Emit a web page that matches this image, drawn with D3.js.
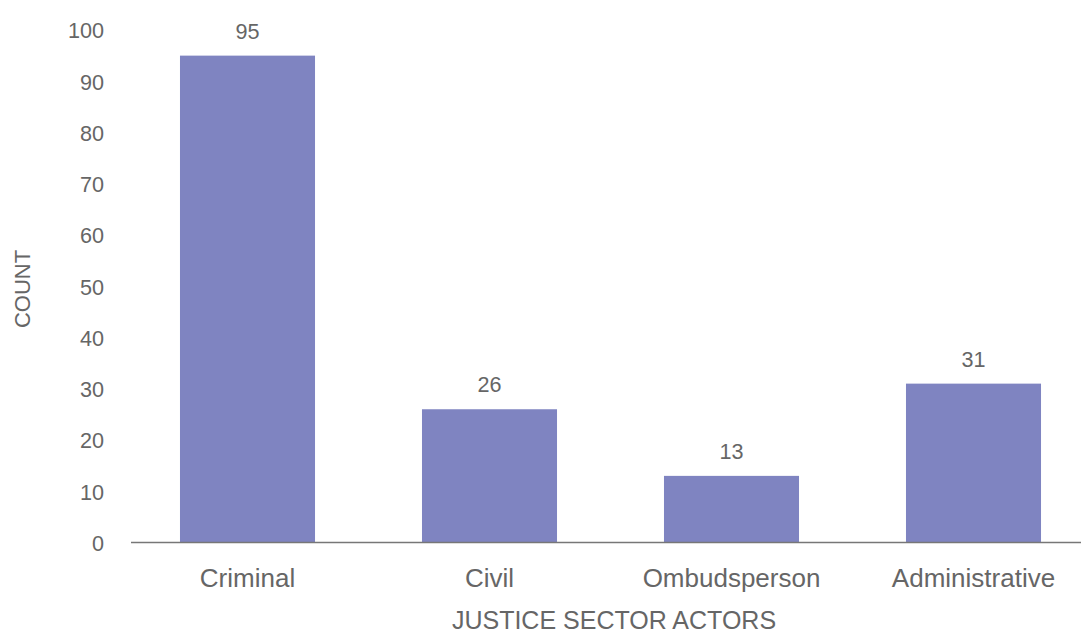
<!DOCTYPE html>
<html>
<head>
<meta charset="utf-8">
<script src="https://cdn.jsdelivr.net/npm/d3@7"></script>
<style>
  html, body { margin: 0; padding: 0; background: #fff; }
  svg { display: block; font-family: "Liberation Sans", Arial, Helvetica, sans-serif; }
</style>
</head>
<body>
<svg id="chart" width="1081" height="636"></svg>
<script>
const categories = ["Criminal", "Civil", "Ombudsperson", "Administrative"];
const counts = [95, 26, 13, 31];
const yTicks = [0, 10, 20, 30, 40, 50, 60, 70, 80, 90, 100];
const xTitle = "JUSTICE SECTOR ACTORS";
const yTitle = "COUNT";

const svg = d3.select("#chart");
const textColor = "#666666";
const barColor = "#7f84c1";

const x = d3.scaleBand().domain(categories).range([126.5, 1094.5])
  .paddingInner(0.442).paddingOuter(0.221);
const y = d3.scaleLinear().domain([0, 100]).range([542.5, 30]);

// bars
svg.append("g").selectAll("rect").data(categories).join("rect")
  .attr("x", d => x(d))
  .attr("width", x.bandwidth())
  .attr("y", (d, i) => y(counts[i]))
  .attr("height", (d, i) => y(0) - y(counts[i]))
  .attr("fill", barColor);

// y axis tick labels
const yAxis = d3.axisLeft(y).tickValues(yTicks).tickSize(0).tickPadding(0);
const gy = svg.append("g").attr("transform", "translate(104,0)").call(yAxis);
gy.select(".domain").remove();
gy.selectAll("text").attr("fill", textColor).attr("font-size", "21.6px")
  .attr("font-family", "Liberation Sans, Arial, sans-serif").attr("dy", "0.36em").attr("x", 0);

// x axis labels
const xAxis = d3.axisBottom(x).tickSize(0).tickPadding(0);
const gx = svg.append("g").attr("transform", `translate(0,${y(0)})`).call(xAxis);
gx.select(".domain").remove();
gx.selectAll("text").attr("fill", textColor).attr("font-size", "26px")
  .attr("font-family", "Liberation Sans, Arial, sans-serif").attr("dy", null).attr("y", 44);

// baseline
svg.append("line")
  .attr("x1", 131).attr("x2", 1081)
  .attr("y1", y(0)).attr("y2", y(0))
  .attr("stroke", "#777777").attr("stroke-width", 1.5);

// value labels
svg.append("g").selectAll("text").data(categories).join("text")
  .attr("x", d => x(d) + x.bandwidth() / 2)
  .attr("y", (d, i) => y(counts[i]) - 17)
  .attr("text-anchor", "middle")
  .attr("fill", textColor).attr("font-size", "21.6px")
  .text((d, i) => counts[i]);

// axis titles
svg.append("text")
  .attr("x", 614).attr("y", 629)
  .attr("text-anchor", "middle")
  .attr("fill", textColor).attr("font-size", "25px")
  .text(xTitle);

svg.append("text")
  .attr("transform", "translate(30,289) rotate(-90)")
  .attr("text-anchor", "middle")
  .attr("fill", textColor).attr("font-size", "22px")
  .text(yTitle);
</script>
</body>
</html>
